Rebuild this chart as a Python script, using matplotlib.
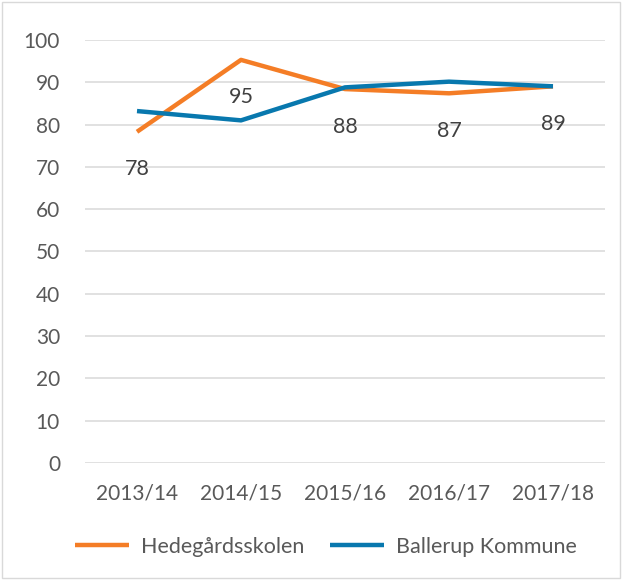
import matplotlib.pyplot as plt
from matplotlib.patches import Rectangle

years = ['2013/14', '2014/15', '2015/16', '2016/17', '2017/18']
hedegaard = [78.3, 95.3, 88.4, 87.4, 89.05]
ballerup = [83.2, 81.0, 88.8, 90.15, 89.05]
hedegaard_labels = ['78', '95', '88', '87', '89']

plt.rcParams['font.family'] = ['Lato', 'DejaVu Sans']
text_col = '#595959'

fig = plt.figure(figsize=(6.23, 5.8), dpi=100)
ax = fig.add_axes([85 / 623, 1 - 463 / 580, 520 / 623, 423 / 580])

x = list(range(len(years)))
ln1, = ax.plot(x, hedegaard, color='#F47D26', linewidth=3.2, solid_capstyle='butt',
               label='Hedegårdsskolen', zorder=3)
ln2, = ax.plot(x, ballerup, color='#0878AE', linewidth=3.2, solid_capstyle='butt',
               label='Ballerup Kommune', zorder=3)

for xi, v, lab in zip(x, hedegaard, hedegaard_labels):
    ax.annotate(lab, (xi, v), xytext=(0, -27), textcoords='offset points',
                ha='center', va='center', fontsize=15.5, color='#404040')

ax.set_xlim(-0.5, len(years) - 0.5)
ax.set_ylim(0, 100)
ax.set_yticks(range(0, 101, 10))
ax.set_xticks(x)
ax.set_xticklabels(years)
ax.grid(axis='y', color='#D9D9D9', linewidth=1.1)
ax.set_axisbelow(True)
for s in ax.spines.values():
    s.set_visible(False)
ax.tick_params(axis='both', length=0, labelsize=15, colors=text_col)
ax.tick_params(axis='y', pad=18)
ax.tick_params(axis='x', pad=15)

leg = fig.legend(handles=[ln1, ln2], loc='center', bbox_to_anchor=(326 / 623, 1 - 547 / 580),
                 ncol=2, frameon=False, fontsize=15.5, handlelength=2.5,
                 columnspacing=1.2, handletextpad=0.55)
for t in leg.get_texts():
    t.set_color(text_col)

fig.patches.append(Rectangle((1.5 / 623, 2 / 580), 618 / 623, 576 / 580,
                             transform=fig.transFigure, fill=False,
                             edgecolor='#D9D9D9', linewidth=1))

fig.savefig('out.png', dpi=100)
